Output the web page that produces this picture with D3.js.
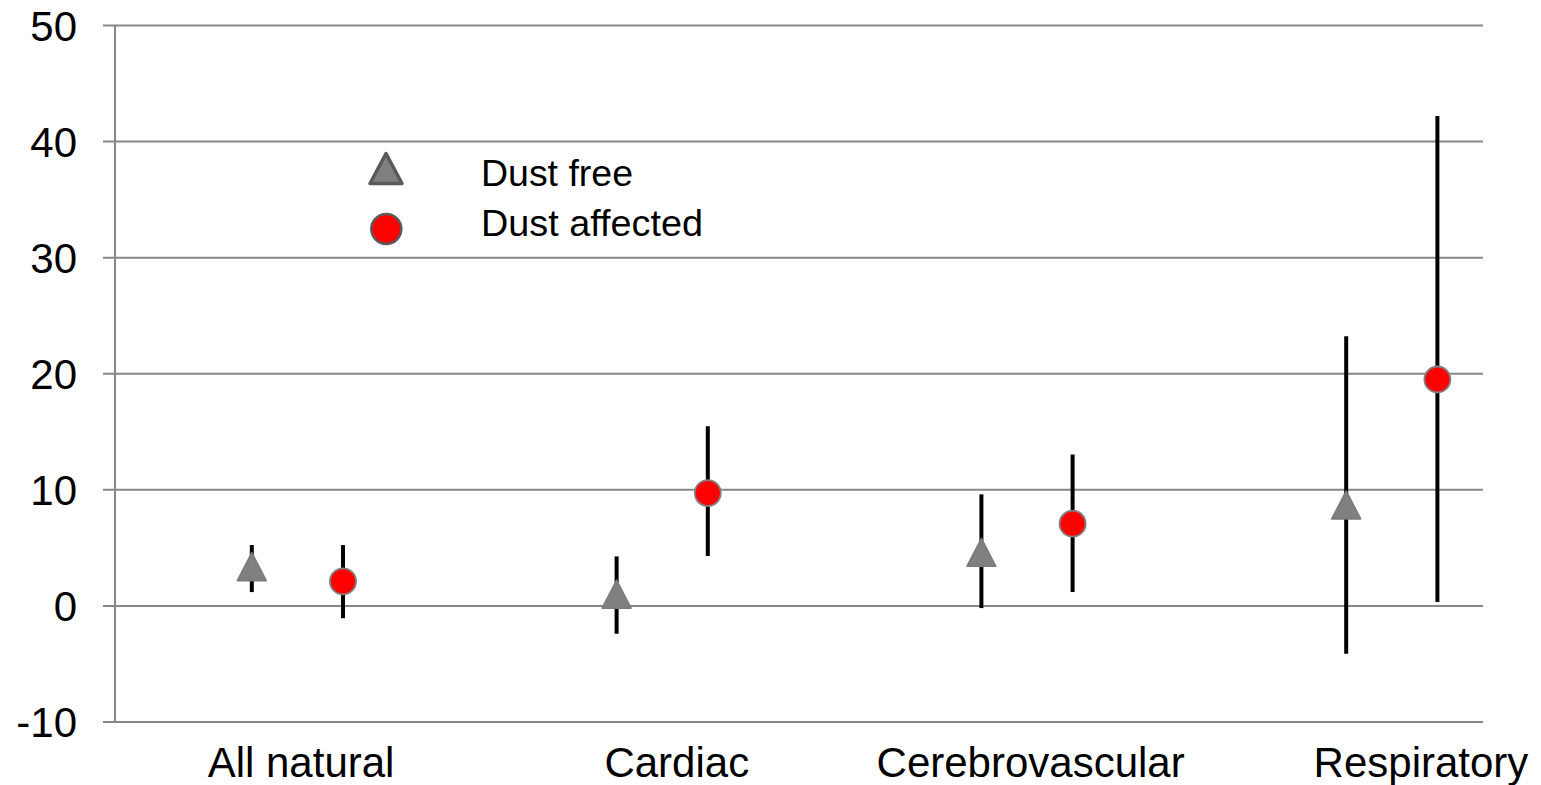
<!DOCTYPE html>
<html>
<head>
<meta charset="utf-8">
<script src="https://cdn.jsdelivr.net/npm/d3@7"></script>
<style>
  html, body { margin: 0; padding: 0; background: #fff; }
  svg { display: block; font-family: Arial, "Liberation Sans", sans-serif; }
</style>
</head>
<body>
<svg id="chart" width="1541" height="785"></svg>
<script>
// ---- Data ----
const categories = ["All natural", "Cardiac", "Cerebrovascular", "Respiratory"];
const labelPositions = [1.01, 2.04, 3.01, 4.08];
const seriesNames = ["Dust free", "Dust affected"];
const dustFree = [3.34, 0.97, 4.57, 8.66];
const dustFreeLow = [1.15, -2.44, -0.23, -4.17];
const dustFreeHigh = [5.2, 4.22, 9.57, 23.19];
const dustAffected = [2.07, 9.68, 7.04, 19.46];
const dustAffectedLow = [-1.1, 4.25, 1.15, 0.29];
const dustAffectedHigh = [5.2, 15.43, 13.0, 42.16];
const yTicks = [-10, 0, 10, 20, 30, 40, 50];

(function () {
// ---- Layout ----
const svg = d3.select("#chart");
const plotLeft = 115, plotRight = 1483, plotTop = 25, plotBottom = 721.5;
const x = d3.scaleLinear().domain([0.5, 4.25]).range([plotLeft, plotRight]);
const y = d3.scaleLinear().domain([-10, 50]).range([plotBottom, plotTop]);
const gridColor = "#878787";

// gridlines + ticks via axis
const yAxis = d3.axisLeft(y).tickValues(yTicks).tickSize(-(plotRight - plotLeft)).tickPadding(0).tickFormat(d => String(d));
const gy = svg.append("g").attr("transform", `translate(${plotLeft},0)`).call(yAxis);
gy.select(".domain").remove();
gy.selectAll(".tick line").attr("stroke", gridColor).attr("stroke-width", 2)
  .attr("x1", -12).attr("x2", plotRight - plotLeft);
gy.selectAll(".tick text")
  .attr("x", -38).attr("dy", "0.36em")
  .attr("font-size", 42).attr("fill", "#000")
  .attr("font-family", "Arial, 'Liberation Sans', sans-serif");

// y axis line
svg.append("line").attr("x1", plotLeft).attr("x2", plotLeft).attr("y1", y(50)).attr("y2", y(-10))
  .attr("stroke", gridColor).attr("stroke-width", 2);

// category labels
svg.append("g").selectAll("text").data(categories).join("text")
  .attr("x", (d, i) => x(labelPositions[i]))
  .attr("y", 777)
  .attr("text-anchor", "middle")
  .attr("font-size", 42)
  .attr("fill", "#000")
  .text(d => d);

// series
const free = categories.map((c, i) => ({ pos: i + 1 - 0.125, v: dustFree[i], lo: dustFreeLow[i], hi: dustFreeHigh[i] }));
const aff = categories.map((c, i) => ({ pos: i + 1 + 0.125, v: dustAffected[i], lo: dustAffectedLow[i], hi: dustAffectedHigh[i] }));

// error bars
svg.append("g").selectAll("line").data(free.concat(aff)).join("line")
  .attr("x1", d => x(d.pos)).attr("x2", d => x(d.pos))
  .attr("y1", d => y(d.hi)).attr("y2", d => y(d.lo))
  .attr("stroke", "#000").attr("stroke-width", 4);

// triangle markers
const tri = (cx, cy, w, h) => `M${cx},${cy - h / 2}L${cx + w / 2},${cy + h / 2}L${cx - w / 2},${cy + h / 2}Z`;
svg.append("g").selectAll("path").data(free).join("path")
  .attr("d", d => tri(x(d.pos), y(d.v), 29, 28))
  .attr("fill", "#808080").attr("stroke", "#7a7a7a").attr("stroke-width", 1.5)
  .attr("stroke-linejoin", "round");

// circle markers
svg.append("g").selectAll("circle").data(aff).join("circle")
  .attr("cx", d => x(d.pos)).attr("cy", d => y(d.v)).attr("r", 13)
  .attr("fill", "#ff0000").attr("stroke", "#808080").attr("stroke-width", 1.8);

// legend
const lg = svg.append("g");
lg.append("path").attr("d", tri(386, 168.5, 32, 30))
  .attr("fill", "#7f7f7f").attr("stroke", "#5a5a5a").attr("stroke-width", 3.5).attr("stroke-linejoin", "round");
lg.append("circle").attr("cx", 386.3).attr("cy", 229).attr("r", 15)
  .attr("fill", "#ff0000").attr("stroke", "#5a5a5a").attr("stroke-width", 2.5);
lg.selectAll("text").data(seriesNames).join("text")
  .attr("x", 481)
  .attr("y", (d, i) => [185.5, 236][i])
  .attr("font-size", 36)
  .attr("textLength", (d, i) => [152, 222][i])
  .attr("lengthAdjust", "spacingAndGlyphs")
  .attr("fill", "#000")
  .text(d => d);
})();
</script>
</body>
</html>
